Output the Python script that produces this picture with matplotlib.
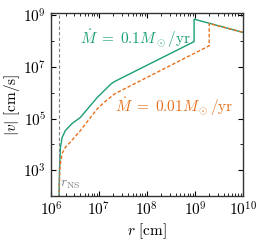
import numpy as np
import matplotlib
matplotlib.use("Agg")
import matplotlib.pyplot as plt
from matplotlib.ticker import FixedLocator, LogLocator, NullFormatter

plt.rcParams["mathtext.fontset"] = "cm"
plt.rcParams["font.family"] = "serif"
plt.rcParams["font.serif"] = ["cmr10"]
plt.rcParams["axes.formatter.use_mathtext"] = True

# radius where the neutron star surface sits
r_ns = 1.45e6

# Mdot = 0.1 Msun/yr (log10 r, log10 |v|)
logr_hi = [6.161, 6.175, 6.195, 6.231, 6.30, 6.44, 6.61, 6.96, 7.25, 7.32, 8.983, 8.983, 10.0]
logv_hi = [1.5, 2.99, 3.88, 4.27, 4.54, 4.81, 5.04, 5.81, 6.34, 6.43, 7.98, 8.85, 8.34]

# Mdot = 0.01 Msun/yr
logr_lo = [6.161, 6.18, 6.195, 6.231, 6.30, 6.37, 6.614, 6.96, 7.11, 7.32, 9.298, 9.298, 10.0]
logv_lo = [1.5, 2.99, 3.26, 3.65, 3.89, 4.02, 4.54, 5.37, 5.63, 5.95, 7.82, 8.68, 8.34]

y_major = [1e3, 1e5, 1e7, 1e9]
y_minor = [1e2, 1e4, 1e6, 1e8]

green = "#1b9e77"
orange = "#e8701c"

fig = plt.figure(figsize=(2.62, 2.41), dpi=100)
ax = fig.add_axes([0.195, 0.187, 0.732, 0.758])

ax.plot(10**np.array(logr_hi), 10**np.array(logv_hi), color=green, lw=1.0)
ax.plot(10**np.array(logr_lo), 10**np.array(logv_lo), color=orange, lw=1.0, ls=(0, (2.5, 1.5)))
ax.axvline(r_ns, color="grey", lw=0.8, ls=(0, (3, 2)))

ax.set_xscale("log")
ax.set_yscale("log")
ax.set_xlim(1e6, 1e10)
ax.set_ylim(1e2, 1.2e9)

ax.xaxis.set_major_locator(LogLocator(base=10, numticks=10))
ax.xaxis.set_minor_locator(LogLocator(base=10, subs=np.arange(2, 10), numticks=50))
ax.xaxis.set_minor_formatter(NullFormatter())
ax.yaxis.set_major_locator(FixedLocator(y_major))
ax.yaxis.set_minor_locator(FixedLocator(y_minor))
ax.yaxis.set_minor_formatter(NullFormatter())

ax.text(0.44, 0.86, r"$\dot M\; =\; 0.1 M_\odot/\mathrm{yr}$", color=green, fontsize=11,
        transform=ax.transAxes, ha="center", va="center")
ax.text(0.64, 0.49, r"$\dot M\; =\; 0.01 M_\odot/\mathrm{yr}$", color=orange, fontsize=11,
        transform=ax.transAxes, ha="center", va="center")
ax.text(1.55e6, 1.5e2, r"$r_\mathrm{NS}$", color="grey", fontsize=10, ha="left", va="bottom")

ax.set_xlabel(r"$r\ [\mathrm{cm}]$", fontsize=11, labelpad=2)
ax.set_ylabel(r"$|v|\ [\mathrm{cm/s}]$", fontsize=11, labelpad=1)
ax.tick_params(which="both", direction="in", top=True, right=True, labelsize=11)
ax.tick_params(which="major", length=3.5)
ax.tick_params(which="minor", length=2)
for s in ax.spines.values():
    s.set_linewidth(1.0)
    s.set_color("#333333")

fig.savefig("out.png", dpi=100)
